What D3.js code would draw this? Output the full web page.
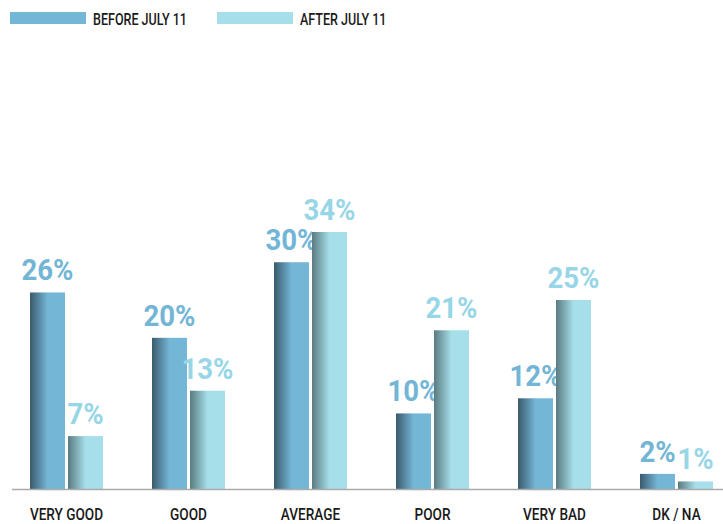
<!DOCTYPE html>
<html><head><meta charset="utf-8">
<script src="https://cdn.jsdelivr.net/npm/d3@7"></script>
<style>
body{margin:0;background:#fff;}
svg{display:block;}
text{font-family:Roboto,"DejaVu Sans",sans-serif;}
</style></head>
<body><svg id="c" width="723" height="524"></svg>
<script>
const categories = ["VERY GOOD","GOOD","AVERAGE","POOR","VERY BAD","DK / NA"];
const seriesNames = ["BEFORE JULY 11","AFTER JULY 11"];
const before = [26,20,30,10,12,2];
const after = [7,13,34,21,25,1];
const colors = ["#74b6d6","#a6dfe9"];
const labelColors = ["#72b5d5","#97d6e6"];
const darks = ["#3a5a6c","#5a7a80"];

const svg = d3.select("#c");
const baseY = 489;
const x = d3.scaleBand().domain(categories).range([5.5,737.5]);
const sub = d3.scaleBand().domain([0,1]).range([x.bandwidth()/2-36.5, x.bandwidth()/2+36.5]).paddingInner(3/38);
const y = d3.scaleLinear().domain([0,34]).range([baseY, 232]);

const defs = svg.append("defs");
colors.forEach((c,i)=>{
  const g = defs.append("linearGradient").attr("id","g"+i).attr("x1","0").attr("x2","1").attr("y1","0").attr("y2","0");
  g.append("stop").attr("offset","0").attr("stop-color",darks[i]);
  g.append("stop").attr("offset","0.5").attr("stop-color",c);
  g.append("stop").attr("offset","1").attr("stop-color",c);
});

// legend
seriesNames.forEach((n,i)=>{
  const lx = [10,217][i];
  svg.append("rect").attr("x",lx).attr("y",12).attr("width",76).attr("height",12).attr("fill",colors[i]);
  svg.append("text").attr("transform",`translate(${lx+83},25) scale(0.76,1)`)
    .attr("font-size",16.5).attr("font-weight",500).attr("fill","#1a1a1a").text(n);
});

const series = [before, after];
series.forEach((vals,i)=>{
  const g = svg.append("g");
  g.selectAll("rect").data(vals).join("rect")
    .attr("x",(d,j)=>x(categories[j])+sub(i))
    .attr("y",d=>y(d))
    .attr("width",sub.bandwidth())
    .attr("height",d=>baseY-y(d))
    .attr("fill","url(#g"+i+")");
  g.selectAll("text").data(vals).join("text")
    .attr("transform",(d,j)=>`translate(${x(categories[j])+sub(i)+sub.bandwidth()/2},${y(d)-12}) scale(0.92,1)`)
    .attr("text-anchor","middle")
    .attr("font-size",30).attr("font-weight","bold")
    .attr("fill",labelColors[i])
    .text(d=>d+"%");
});

// axis
const axis = svg.append("g").attr("transform",`translate(0,${baseY})`)
  .call(d3.axisBottom(x).tickSize(0).tickFormat(""));
axis.select(".domain").attr("stroke","#aaaaaa").attr("stroke-width",1.5).attr("d","M12,0.5H723");
axis.selectAll(".tick").append("text")
  .attr("transform","translate(0,31) scale(0.8,1)")
  .attr("text-anchor","middle")
  .attr("font-size",17).attr("font-weight",500).attr("fill","#1a1a1a")
  .text(d=>d);
</script></body></html>
